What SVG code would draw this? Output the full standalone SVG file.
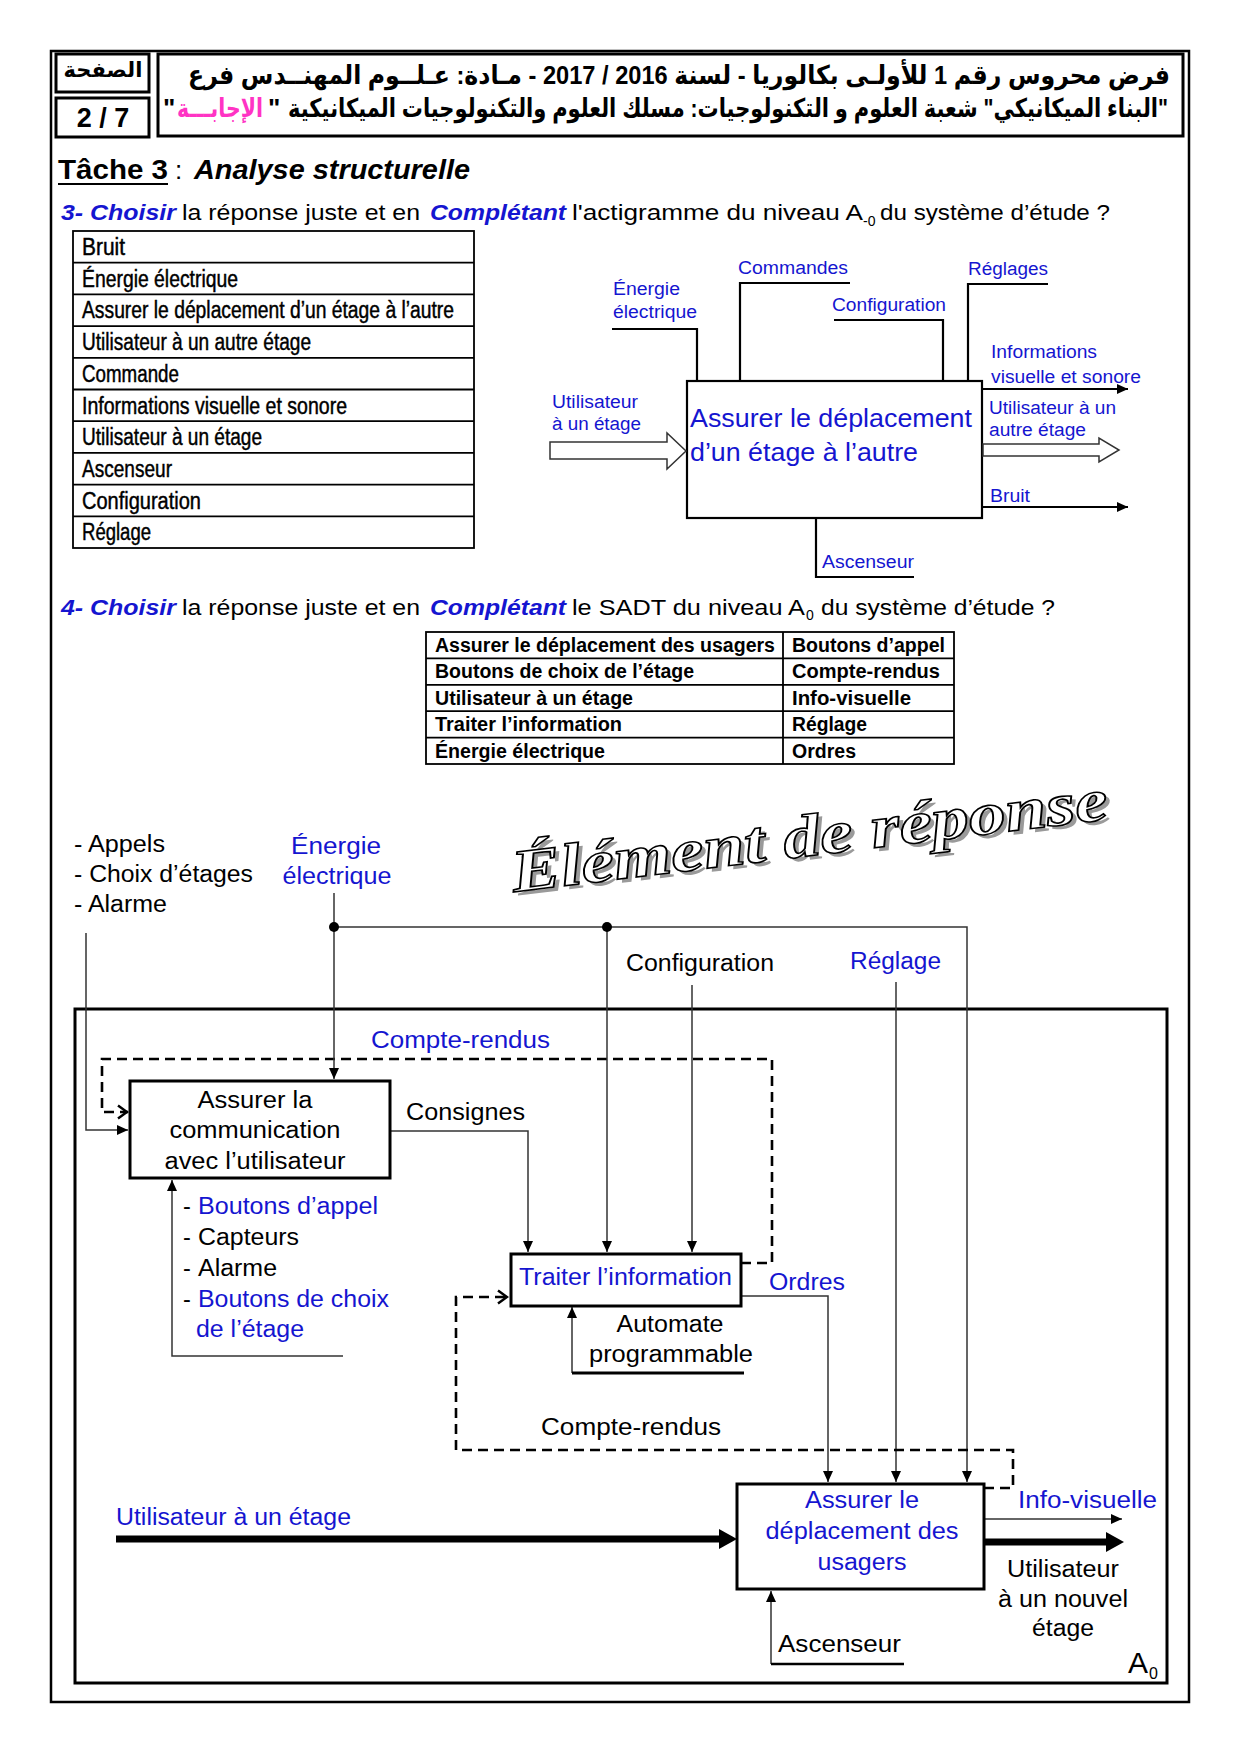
<svg xmlns="http://www.w3.org/2000/svg" width="1240" height="1754" viewBox="0 0 1240 1754">
<defs>
<style>
text{font-family:"Liberation Sans",Arial,"DejaVu Sans",sans-serif;fill:#000}
.b{font-weight:bold}
.i{font-style:italic}
.bl{fill:#1515d0}
.ar{font-family:"Liberation Sans","DejaVu Sans",sans-serif;font-weight:bold;font-size:26px}
.hb{fill:#fff;stroke:#000;stroke-width:3}
.box{fill:#fff;stroke:#000;stroke-width:3}
.abox{fill:#fff;stroke:#000;stroke-width:2.2}
.ln{fill:none;stroke:#333;stroke-width:1.5}
.al{fill:none;stroke:#000;stroke-width:2.2}
.dash{fill:none;stroke:#000;stroke-width:2.6;stroke-dasharray:10 6}
.tb{fill:none;stroke:#000;stroke-width:1.8}
.t1{font-size:23px;stroke:#000;stroke-width:0.45}
.t2{font-size:19.5px;font-weight:bold}
.ac{font-size:18px}
.sd{font-size:23.5px}
.wa{font-family:"Liberation Serif","DejaVu Serif",serif;font-weight:bold;font-style:italic;font-size:60px}
</style>
<marker id="ah" markerWidth="12" markerHeight="10" refX="11" refY="5" orient="auto" markerUnits="userSpaceOnUse"><path d="M0,0 L11,5 L0,10 z" fill="#000"/></marker>
<marker id="ch" markerWidth="12" markerHeight="16" refX="11" refY="8" orient="auto" markerUnits="userSpaceOnUse"><path d="M1,1.5 L10,8 L1,14.5" fill="none" stroke="#000" stroke-width="2.5"/></marker>
<marker id="ahb" markerWidth="20" markerHeight="22" refX="2" refY="11" orient="auto" markerUnits="userSpaceOnUse"><path d="M0,1 L18,11 L0,21 z" fill="#000"/></marker>
</defs>

<rect width="1240" height="1754" fill="#fff"/>

<!-- page border -->
<rect x="51" y="51" width="1138" height="1651" fill="none" stroke="#000" stroke-width="2.5"/>

<!-- header -->
<g id="header">
<rect class="hb" x="56" y="54" width="93" height="38"/>
<rect class="hb" x="56" y="98" width="93" height="39"/>
<rect class="hb" x="158" y="54" width="1025" height="82"/>
<text class="ar" x="103" y="77" text-anchor="middle" direction="rtl" style="font-size:21px">الصفحة</text>
<text class="b" x="103" y="127" text-anchor="middle" style="font-size:27px">2 / 7</text>
<text class="ar" x="679" y="84" text-anchor="middle" direction="rtl" textLength="982" lengthAdjust="spacingAndGlyphs">فرض محروس رقم 1 للأولـى بكالوريا - لسنة 2016 / 2017 - مـادة: عـلــوم المهنــدس فرع</text>
<text class="ar" x="728" y="117" text-anchor="middle" direction="rtl" textLength="880" lengthAdjust="spacingAndGlyphs">"البناء الميكانيكي" شعبة العلوم و التكنولوجيات: مسلك العلوم والتكنولوجيات الميكانيكية</text>
<text class="ar" x="163" y="117">"</text>
<text class="ar" x="220" y="117" text-anchor="middle" direction="rtl" style="fill:#ff33c4" textLength="86" lengthAdjust="spacingAndGlyphs">الإجابـــة</text>
<text class="ar" x="268" y="117">"</text>
</g>

<!-- Tache 3 -->
<g id="title">
<text class="b" x="58" y="179" style="font-size:27px" textLength="110" lengthAdjust="spacingAndGlyphs">Tâche 3</text>
<line x1="58" y1="184" x2="168" y2="184" stroke="#000" stroke-width="2"/>
<text x="175" y="179" style="font-size:26px">:</text>
<text class="b i" x="194" y="179" style="font-size:27px" textLength="276" lengthAdjust="spacingAndGlyphs">Analyse structurelle</text>
</g>

<!-- Question 3 -->
<g id="q3" style="font-size:22.5px">
<text class="b i bl" x="61" y="220" textLength="115" lengthAdjust="spacingAndGlyphs">3- Choisir</text>
<text x="182" y="220" textLength="238" lengthAdjust="spacingAndGlyphs">la réponse juste et en</text>
<text class="b i bl" x="430" y="220" textLength="136" lengthAdjust="spacingAndGlyphs">Complétant</text>
<text x="572" y="220" textLength="291" lengthAdjust="spacingAndGlyphs">l'actigramme du niveau A</text>
<text x="863" y="226" style="font-size:14px">-0</text>
<text x="880" y="220" textLength="230" lengthAdjust="spacingAndGlyphs">du système d’étude ?</text>
</g>

<!-- Table 1 -->
<g id="table1">
<rect class="tb" x="73" y="231" width="401" height="317"/>
<path class="tb" d="M73,262.7H474M73,294.4H474M73,326.1H474M73,357.8H474M73,389.5H474M73,421.2H474M73,452.9H474M73,484.6H474M73,516.3H474"/>
<g class="t1">
<text x="82" y="255" textLength="43" lengthAdjust="spacingAndGlyphs">Bruit</text>
<text x="82" y="286.7" textLength="156" lengthAdjust="spacingAndGlyphs">Énergie électrique</text>
<text x="82" y="318.4" textLength="372" lengthAdjust="spacingAndGlyphs">Assurer le déplacement d’un étage à l’autre</text>
<text x="82" y="350.1" textLength="229" lengthAdjust="spacingAndGlyphs">Utilisateur à un autre étage</text>
<text x="82" y="381.8" textLength="97" lengthAdjust="spacingAndGlyphs">Commande</text>
<text x="82" y="413.5" textLength="265" lengthAdjust="spacingAndGlyphs">Informations visuelle et sonore</text>
<text x="82" y="445.2" textLength="180" lengthAdjust="spacingAndGlyphs">Utilisateur à un étage</text>
<text x="82" y="476.9" textLength="90" lengthAdjust="spacingAndGlyphs">Ascenseur</text>
<text x="82" y="508.6" textLength="119" lengthAdjust="spacingAndGlyphs">Configuration</text>
<text x="82" y="540.3" textLength="69" lengthAdjust="spacingAndGlyphs">Réglage</text>
</g>
</g>

<!-- Actigramme -->
<g id="actigram">
<g id="a-box">
<rect class="abox" x="687" y="381" width="295" height="137"/>
<text class="bl" x="690" y="427" style="font-size:26px" textLength="282" lengthAdjust="spacingAndGlyphs">Assurer le déplacement</text>
<text class="bl" x="690" y="461" style="font-size:26px" textLength="228" lengthAdjust="spacingAndGlyphs">d’un étage à l’autre</text>
</g>
<g id="a-connectors">
<path class="al" d="M612,329H697V381"/>
<path class="al" d="M850,283H740V381"/>
<path class="al" d="M834,320H943V381"/>
<path class="al" d="M1048,284H968V381"/>
<path class="al" d="M982,389H1128" marker-end="url(#ah)"/>
<path class="al" d="M982,507H1128" marker-end="url(#ah)"/>
<path class="al" d="M816,518V577H914"/>
<polygon points="550,442 667,442 667,433 686,451 667,469 667,459 550,459" fill="#fff" stroke="#333" stroke-width="1.5"/>
<polygon points="983,444 1099,444 1099,438 1119,450 1099,462 1099,456 983,456" fill="#fff" stroke="#333" stroke-width="1.5"/>
</g>
<g id="a-labels" class="ac">
<text class="bl" x="613" y="295" textLength="67" lengthAdjust="spacingAndGlyphs">Énergie</text>
<text class="bl" x="613" y="318" textLength="84" lengthAdjust="spacingAndGlyphs">électrique</text>
<text class="bl" x="738" y="274" textLength="110" lengthAdjust="spacingAndGlyphs">Commandes</text>
<text class="bl" x="832" y="311" textLength="114" lengthAdjust="spacingAndGlyphs">Configuration</text>
<text class="bl" x="968" y="275" textLength="80" lengthAdjust="spacingAndGlyphs">Réglages</text>
<text class="bl" x="991" y="358" textLength="106" lengthAdjust="spacingAndGlyphs">Informations</text>
<text class="bl" x="991" y="383" textLength="150" lengthAdjust="spacingAndGlyphs">visuelle et sonore</text>
<text class="bl" x="989" y="414" textLength="127" lengthAdjust="spacingAndGlyphs">Utilisateur à un</text>
<text class="bl" x="989" y="436" textLength="97" lengthAdjust="spacingAndGlyphs">autre étage</text>
<text class="bl" x="990" y="502" textLength="40" lengthAdjust="spacingAndGlyphs">Bruit</text>
<text class="bl" x="822" y="568" textLength="92" lengthAdjust="spacingAndGlyphs">Ascenseur</text>
<text class="bl" x="552" y="408" textLength="86" lengthAdjust="spacingAndGlyphs">Utilisateur</text>
<text class="bl" x="552" y="430" textLength="89" lengthAdjust="spacingAndGlyphs">à un étage</text>
</g>
</g>

<!-- Question 4 -->
<g id="q4" style="font-size:22.5px">
<text class="b i bl" x="61" y="615" textLength="115" lengthAdjust="spacingAndGlyphs">4- Choisir</text>
<text x="182" y="615" textLength="238" lengthAdjust="spacingAndGlyphs">la réponse juste et en</text>
<text class="b i bl" x="430" y="615" textLength="136" lengthAdjust="spacingAndGlyphs">Complétant</text>
<text x="572" y="615" textLength="233" lengthAdjust="spacingAndGlyphs">le SADT du niveau A</text>
<text x="806" y="620" style="font-size:14px">0</text>
<text x="821" y="615" textLength="234" lengthAdjust="spacingAndGlyphs">du système d’étude ?</text>
</g>

<!-- Table 2 -->
<g id="table2">
<rect class="tb" x="426" y="632" width="528" height="132"/>
<path class="tb" d="M426,658.4H954M426,684.8H954M426,711.2H954M426,737.6H954M783,632V764"/>
<g class="t2">
<text x="435" y="652" textLength="340" lengthAdjust="spacingAndGlyphs">Assurer le déplacement des usagers</text>
<text x="435" y="678.4" textLength="259" lengthAdjust="spacingAndGlyphs">Boutons de choix de l’étage</text>
<text x="435" y="704.8" textLength="198" lengthAdjust="spacingAndGlyphs">Utilisateur à un étage</text>
<text x="435" y="731.2" textLength="187" lengthAdjust="spacingAndGlyphs">Traiter l’information</text>
<text x="435" y="757.6" textLength="170" lengthAdjust="spacingAndGlyphs">Énergie électrique</text>
<text x="792" y="652" textLength="153" lengthAdjust="spacingAndGlyphs">Boutons d’appel</text>
<text x="792" y="678.4" textLength="148" lengthAdjust="spacingAndGlyphs">Compte-rendus</text>
<text x="792" y="704.8" textLength="119" lengthAdjust="spacingAndGlyphs">Info-visuelle</text>
<text x="792" y="731.2" textLength="75" lengthAdjust="spacingAndGlyphs">Réglage</text>
<text x="792" y="757.6" textLength="64" lengthAdjust="spacingAndGlyphs">Ordres</text>
</g>
</g>

<!-- Element de reponse -->
<g id="stamp" transform="rotate(-7 514 892)">
<text class="wa" x="518" y="896" style="fill:#9a9a9a" textLength="600" lengthAdjust="spacingAndGlyphs">Élément de réponse</text>
<text class="wa" x="514" y="892" style="fill:#fff" stroke="#000" stroke-width="1.6" textLength="600" lengthAdjust="spacingAndGlyphs">Élément de réponse</text>
</g>

<!-- SADT A0 frame -->
<rect x="75" y="1009" width="1092" height="674" fill="none" stroke="#000" stroke-width="3"/>

<!-- SADT connectors -->
<g id="connectors">
<path class="ln" d="M86,933V1130H128" marker-end="url(#ah)"/>
<path class="dash" d="M741,1263H772V1059H102V1112H128" marker-end="url(#ch)"/>
<path class="ln" d="M334,893V1079" marker-end="url(#ah)"/>
<path class="ln" d="M334,927H967V1482" marker-end="url(#ah)"/>
<path class="ln" d="M607,927V1252" marker-end="url(#ah)"/>
<path class="ln" d="M390,1131H528V1252" marker-end="url(#ah)"/>
<path class="ln" d="M692,985V1252" marker-end="url(#ah)"/>
<path class="ln" d="M896,982V1482" marker-end="url(#ah)"/>
<path class="ln" d="M741,1296H828V1482" marker-end="url(#ah)"/>
<path class="ln" d="M572,1373V1307" marker-end="url(#ah)"/>
<line x1="572" y1="1373" x2="744" y2="1373" stroke="#000" stroke-width="3"/>
<path class="dash" d="M984,1488H1013V1450H456V1297H508" marker-end="url(#ch)"/>
<path class="ln" d="M343,1356H172V1180" marker-end="url(#ah)"/>
<path d="M116,1539H721" fill="none" stroke="#000" stroke-width="7" marker-end="url(#ahb)"/>
<path d="M984,1542H1108" fill="none" stroke="#000" stroke-width="7" marker-end="url(#ahb)"/>
<path class="ln" d="M984,1519H1122" stroke-width="2" marker-end="url(#ah)"/>
<path class="ln" d="M771,1664V1591" marker-end="url(#ah)"/>
<line x1="771" y1="1664" x2="904" y2="1664" stroke="#000" stroke-width="2.5"/>
<circle cx="334" cy="927" r="5" fill="#000"/>
<circle cx="607" cy="927" r="5" fill="#000"/>
</g>

<!-- SADT nodes -->
<g id="node-comm">
<rect class="box" x="130" y="1081" width="260" height="97"/>
<g class="sd" text-anchor="middle">
<text x="255" y="1108" textLength="115" lengthAdjust="spacingAndGlyphs">Assurer la</text>
<text x="255" y="1138" textLength="171" lengthAdjust="spacingAndGlyphs">communication</text>
<text x="255" y="1169" textLength="181" lengthAdjust="spacingAndGlyphs">avec l’utilisateur</text>
</g>
</g>
<g id="node-traiter">
<rect class="box" x="511" y="1254" width="230" height="52"/>
<text class="sd bl" x="519" y="1285" textLength="213" lengthAdjust="spacingAndGlyphs">Traiter l’information</text>
</g>
<g id="node-deplacement">
<rect class="box" x="737" y="1484" width="247" height="105"/>
<g class="sd" text-anchor="middle">
<text class="bl" x="862" y="1508" textLength="114" lengthAdjust="spacingAndGlyphs">Assurer le</text>
<text class="bl" x="862" y="1539" textLength="193" lengthAdjust="spacingAndGlyphs">déplacement des</text>
<text class="bl" x="862" y="1570" textLength="89" lengthAdjust="spacingAndGlyphs">usagers</text>
</g>
</g>

<!-- SADT labels -->
<g id="sadt-labels" class="sd">
<text x="74" y="852" textLength="91" lengthAdjust="spacingAndGlyphs">- Appels</text>
<text x="74" y="882" textLength="179" lengthAdjust="spacingAndGlyphs">- Choix d’étages</text>
<text x="74" y="912" textLength="93" lengthAdjust="spacingAndGlyphs">- Alarme</text>
<text class="bl" x="336" y="854" text-anchor="middle" textLength="90" lengthAdjust="spacingAndGlyphs">Énergie</text>
<text class="bl" x="337" y="884" text-anchor="middle" textLength="109" lengthAdjust="spacingAndGlyphs">électrique</text>
<text x="626" y="971" textLength="148" lengthAdjust="spacingAndGlyphs">Configuration</text>
<text class="bl" x="850" y="969" textLength="91" lengthAdjust="spacingAndGlyphs">Réglage</text>
<text class="bl" x="371" y="1048" textLength="179" lengthAdjust="spacingAndGlyphs">Compte-rendus</text>
<text x="406" y="1120" textLength="119" lengthAdjust="spacingAndGlyphs">Consignes</text>
<text x="183" y="1214">-</text>
<text class="bl" x="198" y="1214" textLength="180" lengthAdjust="spacingAndGlyphs">Boutons d’appel</text>
<text x="183" y="1245">-</text>
<text x="198" y="1245" textLength="101" lengthAdjust="spacingAndGlyphs">Capteurs</text>
<text x="183" y="1276">-</text>
<text x="198" y="1276" textLength="79" lengthAdjust="spacingAndGlyphs">Alarme</text>
<text x="183" y="1307">-</text>
<text class="bl" x="198" y="1307" textLength="191" lengthAdjust="spacingAndGlyphs">Boutons de choix</text>
<text class="bl" x="196" y="1337" textLength="108" lengthAdjust="spacingAndGlyphs">de l’étage</text>
<text class="bl" x="769" y="1290" textLength="76" lengthAdjust="spacingAndGlyphs">Ordres</text>
<text x="670" y="1332" text-anchor="middle" textLength="107" lengthAdjust="spacingAndGlyphs">Automate</text>
<text x="589" y="1362" textLength="164" lengthAdjust="spacingAndGlyphs">programmable</text>
<text x="541" y="1435" textLength="180" lengthAdjust="spacingAndGlyphs">Compte-rendus</text>
<text class="bl" x="116" y="1525" textLength="235" lengthAdjust="spacingAndGlyphs">Utilisateur à un étage</text>
<text class="bl" x="1018" y="1508" textLength="139" lengthAdjust="spacingAndGlyphs">Info-visuelle</text>
<text x="1063" y="1577" text-anchor="middle" textLength="112" lengthAdjust="spacingAndGlyphs">Utilisateur</text>
<text x="1063" y="1607" text-anchor="middle" textLength="130" lengthAdjust="spacingAndGlyphs">à un nouvel</text>
<text x="1063" y="1636" text-anchor="middle" textLength="62" lengthAdjust="spacingAndGlyphs">étage</text>
<text x="778" y="1652" textLength="123" lengthAdjust="spacingAndGlyphs">Ascenseur</text>
<text x="1128" y="1673" style="font-size:30px">A</text>
<text x="1149" y="1679" style="font-size:16px">0</text>
</g>
</svg>
